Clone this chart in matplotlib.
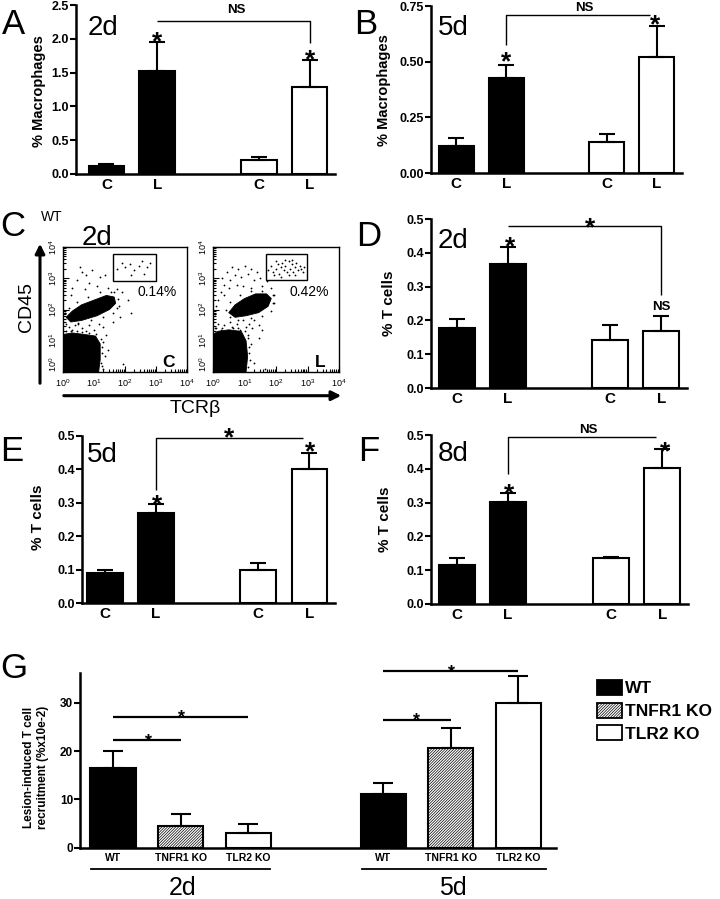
import numpy as np
import matplotlib.pyplot as plt
from matplotlib.patches import Patch, Rectangle, FancyArrowPatch

plt.rcParams['font.family'] = ['Liberation Sans', 'DejaVu Sans']
plt.rcParams['mathtext.default'] = 'regular'
plt.rcParams['hatch.linewidth'] = 0.5

# ---- data ----
groups = ['C', 'L', 'C', 'L']
pos = [0, 1, 3, 4]
bar_colors = ['black', 'black', 'white', 'white']

macro_2d = [0.12, 1.52, 0.21, 1.28]
macro_2d_sem = [0.03, 0.43, 0.045, 0.40]
macro_5d = [0.12, 0.425, 0.14, 0.52]
macro_5d_sem = [0.035, 0.06, 0.035, 0.14]
tcell_2d = [0.178, 0.367, 0.143, 0.17]
tcell_2d_sem = [0.027, 0.051, 0.044, 0.042]
tcell_5d = [0.09, 0.268, 0.10, 0.40]
tcell_5d_sem = [0.01, 0.027, 0.02, 0.05]
tcell_8d = [0.115, 0.303, 0.135, 0.402]
tcell_8d_sem = [0.022, 0.025, 0.005, 0.056]

genotypes = ['WT', 'TNFR1 KO', 'TLR2 KO']
g_pos = [0, 1, 2, 4, 5, 6]
recruit = [16.6, 4.5, 3.0, 11.1, 20.6, 29.9]
recruit_sem = [3.5, 2.5, 1.9, 2.4, 4.3, 5.7]

# flow cytometry (log10 units): dense populations as outlines, sparse events as points
ctrl_blobs = [
    ([0, 1.15, 1.2, 1.2, 1.05, 0.7, 0.3, 0], [0, 0, 0.4, 0.9, 1.15, 1.2, 1.25, 1.2]),
    ([0.1, 0.3, 0.6, 1.0, 1.4, 1.65, 1.7, 1.5, 1.1, 0.6, 0.25],
     [1.75, 1.95, 2.15, 2.3, 2.45, 2.4, 2.2, 2.0, 1.8, 1.65, 1.6]),
]
ctrl_x = [0.55, 0.6, 0.75, 0.95, 1.2, 1.35, 0.45, 0.85, 1.1, 1.45, 1.65, 0.3, 0.7, 1.9, 1.75,
          0.25, 1.8, 2.1, 2.2, 1.85, 0.2, 0.4, 0.6, 0.85, 1.0, 1.15, 0.3, 0.75, 1.3, 0.1, 0.5,
          1.4, 1.3, 1.35, 1.25, 1.45, 1.6, 1.95,
          0.1, 0.25, 0.45, 0.6, 0.85, 1.05, 1.22, 1.26, 1.25, 1.22, 1.3, 0.05, 0.2, 0.45, 0.8,
          1.2, 1.55, 1.78, 1.75, 1.6, 1.3, 0.9, 0.5,
          1.75, 1.9, 2.0, 2.15, 2.3, 2.45, 2.55, 2.7, 2.8, 2.2, 2.6]
ctrl_y = [3.35, 3.2, 3.1, 3.25, 3.05, 3.1, 2.95, 2.85, 2.75, 2.7, 2.55, 2.7, 2.65, 2.55, 2.65,
          2.45, 2.1, 2.3, 1.9, 1.75, 1.45, 1.5, 1.4, 1.5, 1.35, 1.55, 1.35, 1.3, 1.45, 1.55, 1.55,
          1.2, 0.95, 0.5, 0.2, 0.7, 1.6, 0.25,
          1.3, 1.32, 1.3, 1.28, 1.25, 1.22, 1.05, 0.8, 0.6, 0.3, 0.1, 1.9, 2.05, 2.25, 2.4,
          2.55, 2.55, 2.35, 2.05, 1.9, 1.75, 1.65, 1.58,
          3.3, 3.5, 3.35, 3.45, 3.25, 3.4, 3.55, 3.35, 3.5, 3.1, 3.15]

les_blobs = [
    ([0, 1.05, 1.1, 1.05, 0.9, 0.5, 0.15, 0], [0, 0, 0.5, 1.0, 1.3, 1.35, 1.3, 1.2]),
    ([0.5, 0.7, 1.0, 1.35, 1.7, 1.85, 1.75, 1.45, 1.05, 0.7],
     [1.9, 2.15, 2.35, 2.5, 2.5, 2.35, 2.1, 1.9, 1.8, 1.75]),
]
les_x = [0.3, 0.45, 0.6, 0.8, 1.0, 1.2, 1.4, 0.35, 0.55, 0.7, 0.9, 1.1, 1.3, 1.5, 0.25, 0.5,
         0.75, 0.95, 1.2, 1.55, 1.7, 1.85, 0.15, 0.35, 1.95, 0.1, 1.9, 0.05,
         0.15, 0.35, 0.55, 0.75, 0.95, 1.15, 1.3, 0.25, 0.45, 0.65, 0.85, 1.05, 1.25, 1.45,
         0.1, 1.55, 1.1, 1.2, 1.15, 1.3, 1.45, 1.65,
         0.05, 0.3, 0.6, 0.8, 1.0, 1.12, 1.15, 1.18, 1.1, 0.4, 0.55, 0.85, 1.2, 1.55, 1.9,
         1.95, 1.85, 1.55, 1.2, 0.8, 0.55,
         1.75, 1.85, 1.9, 2.0, 2.05, 2.1, 2.15, 2.2, 2.25, 2.3, 2.35, 2.4, 2.45, 2.5, 2.55,
         2.6, 2.65, 2.7, 2.75, 2.8, 2.85, 1.95, 2.15, 2.4, 2.6, 2.3, 2.5, 2.0, 2.9]
les_y = [3.0, 3.2, 3.35, 3.3, 3.4, 3.3, 3.2, 2.8, 2.95, 3.1, 3.05, 3.15, 2.95, 3.0, 2.55, 2.7,
         2.8, 2.75, 2.7, 2.75, 2.9, 2.7, 2.3, 2.45, 2.45, 2.1, 2.2, 1.85,
         1.55, 1.5, 1.6, 1.55, 1.65, 1.55, 1.65, 1.35, 1.3, 1.4, 1.35, 1.45, 1.4, 1.5,
         1.4, 1.35, 1.2, 0.9, 0.6, 0.3, 1.1, 0.1,
         1.4, 1.42, 1.45, 1.4, 1.3, 1.1, 0.8, 0.4, 0.15, 2.0, 2.25, 2.45, 2.58, 2.6, 2.45,
         2.2, 1.95, 1.8, 1.72, 1.68, 1.75,
         3.25, 3.4, 3.2, 3.3, 3.45, 3.15, 3.35, 3.5, 3.25, 3.4, 3.2, 3.55, 3.3, 3.45, 3.2,
         3.35, 3.5, 3.25, 3.4, 3.3, 3.2, 3.1, 3.05, 3.1, 3.1, 3.6, 3.6, 3.55, 3.35]

# ---- figure ----
W, H = 720, 899
fig = plt.figure(figsize=(7.2, 8.99), dpi=100)


def px_axes(l, t, r, b):
    return fig.add_axes([l / W, 1 - b / H, (r - l) / W, (b - t) / H])


def cap_text(x, yc, s, fs, **kw):
    # place text so that its cap height is centred on yc (pixels from top)
    yb = yc + 0.358 * fs * 100 / 72
    fig.text(x / W, 1 - yb / H, s, fontsize=fs, ha='center', va='baseline', **kw)


def ylab(x, y, s, fs=10.5, **kw):
    fig.text(x / W, 1 - y / H, s, fontsize=fs, fontweight='bold', rotation=90,
             ha='center', va='center', **kw)


def star(ax, x, y, fs=18):
    ax.annotate('*', xy=(x, y), xytext=(0, -0.55 * fs), textcoords='offset points',
                ha='center', va='baseline', fontsize=fs, fontweight='bold',
                annotation_clip=False)


def link(ax, xs, ys, lw=1.0):
    ax.plot(xs, ys, color='black', lw=lw, clip_on=False, solid_capstyle='butt')


def bar_panel(ax, vals, sem, ylim, yticks, fmt, xlim=(-0.5, 4.5)):
    ax.bar(pos, vals, width=0.7, color=bar_colors, edgecolor='black', linewidth=1.5, zorder=2)
    ax.errorbar(pos, vals, yerr=[np.zeros(len(vals)), sem], fmt='none', ecolor='black',
                elinewidth=1.5, capsize=5.5, capthick=1.5, zorder=3)
    ax.set_xlim(*xlim)
    ax.set_ylim(*ylim)
    ax.set_yticks(yticks)
    ax.set_yticklabels([fmt.format(v) for v in yticks], fontweight='bold')
    ax.set_xticks(pos)
    ax.set_xticklabels(groups, fontsize=11, fontweight='bold')
    ax.tick_params(axis='x', length=0, pad=3)
    ax.tick_params(axis='y', length=4, width=1.5, pad=1, labelsize=9)
    for s in ['top', 'right']:
        ax.spines[s].set_visible(False)
    for s in ['left', 'bottom']:
        ax.spines[s].set_linewidth(1.8)
    ax.patch.set_alpha(0)


# A
axA = px_axes(76, 5, 335, 174)
bar_panel(axA, macro_2d, macro_2d_sem, (0, 2.5), np.arange(0, 2.51, 0.5), '{:.1f}', (-0.6, 4.5))
link(axA, [1, 4, 4], [2.26, 2.26, 1.94])
axA.text(2.55, 2.33, 'NS', ha='center', va='bottom', fontsize=9.5, fontweight='bold')
star(axA, 1, 2.06, 19)
star(axA, 4, 1.79, 19)

# B
axB = px_axes(431, 6, 682, 173)
bar_panel(axB, macro_5d, macro_5d_sem, (0, 0.75), [0, 0.25, 0.5, 0.75], '{:.2f}')
link(axB, [1, 1, 3.87], [0.575, 0.71, 0.71])
axB.text(2.55, 0.716, 'NS', ha='center', va='bottom', fontsize=9.5, fontweight='bold')
star(axB, 1, 0.53, 19)
star(axB, 3.97, 0.696, 19)

# D
axD = px_axes(431, 219, 687, 388)
bar_panel(axD, tcell_2d, tcell_2d_sem, (0, 0.5), np.arange(0, 0.51, 0.1), '{:.1f}')
link(axD, [1, 4, 4], [0.48, 0.48, 0.275])
star(axD, 2.6, 0.494, 19)
star(axD, 1.05, 0.438, 19)
axD.text(4, 0.222, 'NS', ha='center', va='bottom', fontsize=9.5, fontweight='bold')

# E
axE = px_axes(82, 436, 335, 603)
bar_panel(axE, tcell_5d, tcell_5d_sem, (0, 0.5), np.arange(0, 0.51, 0.1), '{:.1f}', (-0.45, 4.5))
link(axE, [1, 1, 3.87], [0.338, 0.494, 0.494])
star(axE, 2.42, 0.515, 19)
star(axE, 1.02, 0.314, 19)
star(axE, 4.02, 0.473, 19)

# F
axF = px_axes(431, 435, 688, 604)
bar_panel(axF, tcell_8d, tcell_8d_sem, (0, 0.5), np.arange(0, 0.51, 0.1), '{:.1f}')
link(axF, [1, 1, 3.87], [0.385, 0.494, 0.494])
axF.text(2.57, 0.497, 'NS', ha='center', va='bottom', fontsize=9.5, fontweight='bold')
star(axF, 1.02, 0.346, 19)
star(axF, 4.05, 0.47, 19)


# C: flow plots
def flow_panel(ax, blobs, dx, dy, gate, pct, tag):
    for bx, by in blobs:
        ax.fill(bx, by, color='black', lw=0.6)
    ax.plot(dx, dy, 'o', color='black', ms=1.3, mew=0)
    ax.add_patch(Rectangle((gate[0], gate[1]), gate[2] - gate[0], gate[3] - gate[1],
                           fill=False, lw=1.0))
    ax.text(3.05, 2.55, pct, ha='center', va='center', fontsize=10)
    ax.text(3.4, 0.3, tag, ha='center', va='center', fontsize=12.5, fontweight='bold')
    ax.set_xlim(0, 4)
    ax.set_ylim(0, 4)
    ticks = np.arange(5)
    minor = [k + np.log10(m) for k in range(4) for m in range(2, 10)]
    labels = ['$10^{%d}$' % k for k in ticks]
    ax.set_xticks(ticks)
    ax.set_xticklabels(labels)
    ax.set_yticks(ticks)
    ax.set_yticklabels(labels, rotation=90, va='center')
    ax.set_xticks(minor, minor=True)
    ax.set_yticks(minor, minor=True)
    ax.tick_params(which='both', direction='in', labelsize=6.5, width=0.8)
    ax.tick_params(axis='x', pad=4)
    ax.tick_params(axis='y', pad=3)
    ax.tick_params(which='major', length=4)
    ax.tick_params(which='minor', length=2)
    ax.get_yticklabels()[0].set_va('bottom')
    for s in ax.spines.values():
        s.set_linewidth(1.0)


axC1 = px_axes(63, 247, 187, 372)
flow_panel(axC1, ctrl_blobs, ctrl_x, ctrl_y, (1.6, 2.9, 3.0, 3.78), '0.14%', 'C')
axC2 = px_axes(213, 247, 339, 372)
flow_panel(axC2, les_blobs, les_x, les_y, (1.67, 2.94, 2.98, 3.78), '0.42%', 'L')

fig.add_artist(FancyArrowPatch((40 / W, 1 - 386 / H), (40 / W, 1 - 241 / H),
                               transform=fig.transFigure, arrowstyle='-|>',
                               mutation_scale=14, lw=2.2, color='black'))
fig.add_artist(FancyArrowPatch((61 / W, 1 - 395.7 / H), (344 / W, 1 - 395.7 / H),
                               transform=fig.transFigure, arrowstyle='-|>',
                               mutation_scale=14, lw=2.2, color='black'))
fig.text(27 / W, 1 - 307 / H, 'CD45', fontsize=14, rotation=90, ha='center', va='center')
cap_text(195, 406, 'TCRβ', 14)
cap_text(52, 216, 'WT', 10)

# G
axG = px_axes(80, 673, 556, 847.7)
g_colors = ['black', 'white', 'white'] * 2
g_hatch = ['', '////////////', ''] * 2
for x, v, c, h in zip(g_pos, recruit, g_colors, g_hatch):
    axG.bar(x, v, width=0.67, color=c, edgecolor='black', hatch=h, linewidth=1.5, zorder=2)
axG.errorbar(g_pos, recruit, yerr=[np.zeros(len(recruit)), recruit_sem], fmt='none',
             ecolor='black', elinewidth=1.5, capsize=7.5, capthick=1.5, zorder=3)
axG.set_xlim(-0.49, 6.56)
axG.set_ylim(0, 36.2)
axG.set_yticks([0, 10, 20, 30])
axG.set_yticklabels(['0', '10', '20', '30'], fontweight='bold')
axG.set_xticks(g_pos)
axG.set_xticklabels(genotypes * 2, fontsize=7.5, fontweight='bold')
axG.tick_params(axis='x', length=0, pad=4)
axG.tick_params(axis='y', length=4, width=1.5, pad=1, labelsize=8.5)
for s in ['top', 'right']:
    axG.spines[s].set_visible(False)
for s in ['left', 'bottom']:
    axG.spines[s].set_linewidth(1.8)
axG.patch.set_alpha(0)

link(axG, [0, 1], [22.3, 22.3], 1.6)
link(axG, [0, 2], [27.0, 27.0], 1.6)
link(axG, [4, 5], [26.4, 26.4], 1.6)
link(axG, [4, 6], [36.6, 36.6], 1.6)
star(axG, 0.52, 23.1, 13)
star(axG, 1.02, 28.1, 13)
star(axG, 4.5, 27.5, 13)
star(axG, 5.01, 37.4, 13)

trans = axG.get_xaxis_transform()
axG.plot([-0.33, 2.33], [-0.124, -0.124], color='black', lw=1.3, transform=trans, clip_on=False)
axG.plot([3.68, 6.41], [-0.124, -0.124], color='black', lw=1.3, transform=trans, clip_on=False)
cap_text(182.7, 886, '2d', 18)
cap_text(453, 886, '5d', 18)
fig.text(36 / W, 1 - 767 / H, 'Lesion-induced T cell\nrecruitment (%x10e-2)', fontsize=8.5,
         fontweight='bold', rotation=90, ha='center', va='center', linespacing=1.25)

handles = [Patch(facecolor='black', edgecolor='black', lw=1.3),
           Patch(facecolor='white', edgecolor='black', hatch='////////////', lw=1.3),
           Patch(facecolor='white', edgecolor='black', lw=1.3)]
fig.legend(handles, genotypes, loc='upper left', bbox_to_anchor=(597 / W, 1 - 680 / H),
           frameon=False, borderpad=0, borderaxespad=0, handlelength=1.45, handleheight=0.95,
           handletextpad=0.15, labelspacing=0.36, prop={'weight': 'bold', 'size': 12.5})

# y labels
ylab(39, 91, '% Macrophages')
ylab(384, 90, '% Macrophages')
ylab(389, 303, '% T cells', 11)
ylab(37.5, 517, '% T cells', 11)
ylab(385, 519, '% T cells', 11)

# panel letters and day labels
for x, y, s in [(14, 22, 'A'), (366, 22, 'B'), (13, 224, 'C'), (369, 234, 'D'),
                (12, 449, 'E'), (369, 449, 'F'), (14, 666, 'G')]:
    cap_text(x, y, s, 25)
for x, y, s in [(103, 25, '2d'), (453, 25, '5d'), (97, 235, '2d'), (453, 238, '2d'),
                (102, 452, '5d'), (453, 451, '8d')]:
    cap_text(x, y, s, 20)

fig.savefig('out.png', dpi=100, facecolor='white')
